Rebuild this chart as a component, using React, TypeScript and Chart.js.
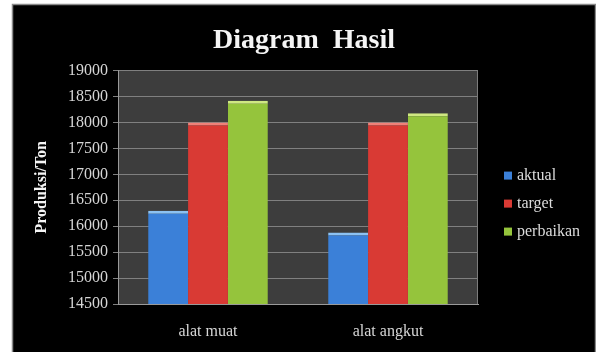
import { useEffect, useRef } from "react";
import { Chart, registerables } from "chart.js";

Chart.register(...registerables);

// Production results per equipment type (tons)
const categories = ["alat muat", "alat angkut"];
const seriesNames = ["aktual", "target", "perbaikan"];
const aktual = [16300, 15880];
const target = [18000, 18000];
const perbaikan = [18420, 18180];

const yMin = 14500;
const yMax = 19000;
const yStep = 500;

const SERIF = "'Liberation Serif', 'Times New Roman', serif";

// Dark framed backdrop with a grey plot panel
const backdropPlugin = {
  id: "backdrop",
  beforeDraw(chart: any) {
    const { ctx, width, height, chartArea } = chart;
    ctx.save();
    ctx.fillStyle = "#ffffff";
    ctx.fillRect(0, 0, width, height);
    ctx.fillStyle = "#000000";
    ctx.fillRect(12, 4, width - 12, height - 4);
    ctx.strokeStyle = "#8a8a8a";
    ctx.lineWidth = 1.5;
    ctx.strokeRect(12.5, 4.5, width - 13, height + 10);
    ctx.fillStyle = "#3d3d3d";
    ctx.fillRect(
      chartArea.left,
      chartArea.top,
      chartArea.right - chartArea.left,
      chartArea.bottom - chartArea.top
    );
    ctx.restore();
  },
  beforeDatasetsDraw(chart: any) {
    const { ctx, chartArea } = chart;
    ctx.save();
    ctx.strokeStyle = "#7c7c7c";
    ctx.lineWidth = 1;
    ctx.beginPath();
    ctx.moveTo(Math.round(chartArea.right) - 0.5, chartArea.top);
    ctx.lineTo(Math.round(chartArea.right) - 0.5, chartArea.bottom);
    ctx.stroke();
    ctx.restore();
  },
};

// Legend column to the right of the plot panel
const sideLegendPlugin = {
  id: "sideLegend",
  afterDraw(chart: any) {
    const { ctx, chartArea } = chart;
    ctx.save();
    ctx.font = `16px ${SERIF}`;
    ctx.textBaseline = "middle";
    ctx.textAlign = "left";
    chart.data.datasets.forEach((ds: any, i: number) => {
      const x = chartArea.right + 26;
      const y = chartArea.top + 105 + i * 28;
      ctx.fillStyle = ds.backgroundColor;
      ctx.fillRect(x, y - 4, 8, 8);
      ctx.fillStyle = "#dcdcdc";
      ctx.fillText(ds.label, x + 13, y);
    });
    ctx.restore();
  },
};

export default function App() {
  const canvasRef = useRef<HTMLCanvasElement | null>(null);

  useEffect(() => {
    const canvas = canvasRef.current;
    if (!canvas) return;

    const fills = ["#3b80d8", "#d93a34", "#95c43c"];
    const caps = ["#8cc2f2", "#f08078", "#cfe882"];
    const values = [aktual, target, perbaikan];

    const chart = new Chart(canvas, {
      type: "bar",
      data: {
        labels: categories,
        datasets: seriesNames.map((name, i) => ({
          label: name,
          data: values[i],
          yAxisID: "y",
          backgroundColor: fills[i],
          borderColor: caps[i],
          borderWidth: { top: 3, left: 0, right: 0, bottom: 0 },
          borderSkipped: "start",
          categoryPercentage: 0.665,
          barPercentage: 1,
        })),
      },
      options: {
        animation: false,
        responsive: false,
        devicePixelRatio: 1,
        layout: { padding: { top: 4, left: 12, right: 0, bottom: 0 } },
        plugins: {
          legend: { display: false },
          tooltip: { enabled: false },
          title: {
            display: true,
            text: "Diagram  Hasil",
            color: "#f5f5f5",
            font: { family: SERIF, size: 28, weight: "bold" },
            padding: { top: 20, bottom: 13 },
          },
        },
        scales: {
          x: {
            grid: { display: false },
            border: { display: true, color: "#9a9a9a" },
            ticks: {
              color: "#d6d6d6",
              font: { family: SERIF, size: 16 },
              padding: 10,
              maxRotation: 0,
            },
            afterFit: (s: any) => {
              s.height = 48;
            },
          },
          y: {
            position: "left",
            min: yMin,
            max: yMax,
            grid: {
              color: "#808080",
              lineWidth: 1,
              drawTicks: true,
              tickLength: 5,
            },
            border: { display: true, color: "#9a9a9a" },
            ticks: {
              stepSize: yStep,
              color: "#d6d6d6",
              font: { family: SERIF, size: 16 },
              padding: 5,
              callback: (v: any) => String(v),
            },
            title: {
              display: true,
              text: "Produksi/Ton",
              color: "#f5f5f5",
              font: { family: SERIF, size: 16, weight: "bold" },
              padding: { top: 20, bottom: 0 },
            },
            afterFit: (s: any) => {
              s.width = 106;
            },
          },
          legendSpace: {
            type: "linear",
            position: "right",
            display: true,
            grid: { display: false, drawOnChartArea: false },
            border: { display: false },
            ticks: { display: false },
            afterFit: (s: any) => {
              s.width = 118;
            },
          },
        },
      } as any,
      plugins: [backdropPlugin, sideLegendPlugin],
    });

    return () => chart.destroy();
  }, []);

  return (
    <div style={{ position: "absolute", left: 0, top: 0, width: 596, height: 352 }}>
      <canvas ref={canvasRef} width={596} height={352} style={{ display: "block" }} />
    </div>
  );
}
